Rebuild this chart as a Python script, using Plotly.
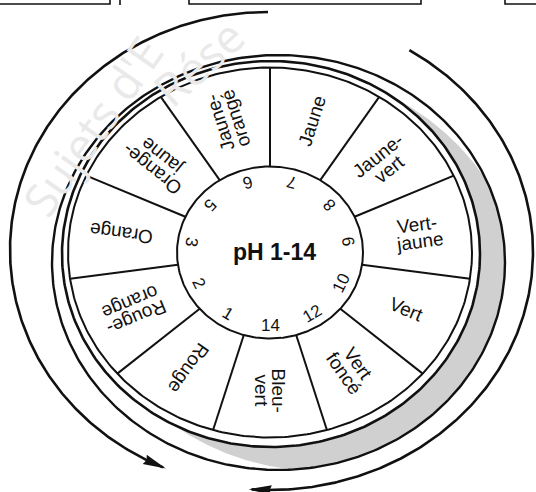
import numpy as np
import plotly.graph_objects as go

# ---------------- data ----------------
segment_names = [["Jaune"], ["Jaune-", "vert"], ["Vert-", "jaune"], ["Vert"],
                 ["Vert", "foncé"], ["Bleu-", "vert"], ["Rouge"], ["Rouge-", "orange"],
                 ["Orange"], ["Orange-", "jaune"], ["Jaune-", "orangé"]]
ph_values = ["7", "8", "9", "10", "12", "14", "1", "2", "3", "5", "6"]
title_text = "pH 1-14"
watermark_words = ["Sujets d'E", "Rése"]

# ---------------- geometry (pixel space) ----------------
W, H = 536, 492
CX, CY = 270.0, 252.5
IN_RX, IN_RY = 93.0, 86.0          # inner disc
R1 = (270.0, 252.5, 202.0, 185.0)  # segment outer edge
R2 = (271.0, 254.0, 209.0, 193.0)  # ring line
R3 = (278.5, 262.5, 226.5, 207.5)  # outer shadow ring
LEFT_ARC = (268.0, 250.0, 258.0, 238.0, 90.0, 246.0)
RIGHT_ARC = (270.0, 252.0, 263.0, 238.0, 58.0, -94.0)
BLACK = "#111111"
n_seg = len(segment_names)
step = 360.0 / n_seg


def ell(e, t0, t1, n=300):
    cx, cy, rx, ry = e
    t = np.radians(np.linspace(t0, t1, n))
    return cx + rx * np.cos(t), cy - ry * np.sin(t)


fig = go.Figure()


def add_line(x, y, width=2.0, color=BLACK):
    fig.add_trace(go.Scatter(x=list(x), y=list(y), mode="lines",
                             line=dict(color=color, width=width),
                             hoverinfo="skip", showlegend=False))


def add_fill(x, y, color):
    fig.add_trace(go.Scatter(x=list(x), y=list(y), mode="lines", fill="toself",
                             fillcolor=color, line=dict(width=0, color=color),
                             hoverinfo="skip", showlegend=False))


# gray crescent between R2 and R3 (right side)
ta, tb = 55.0, -118.0
th = np.linspace(ta, tb, 300)
u = (th - tb) / (ta - tb)
wgt = np.clip(np.sin(np.pi * u) / 0.55, 0, 1)
x2, y2 = ell(R2, ta, tb)
x3, y3 = ell(R3, ta, tb)
xo = x2 + wgt * (x3 - x2)
yo = y2 + wgt * (y3 - y2)
add_fill(np.concatenate([xo, x2[::-1]]), np.concatenate([yo, y2[::-1]]), "#d0d0d0")

# rings
for e, w in [(R3, 2.4), (R2, 2.6), (R1, 2.0)]:
    x, y = ell(e, 0, 360, 400)
    add_line(x, y, w)
x, y = ell((CX, CY, IN_RX, IN_RY), 0, 360, 300)
add_line(x, y, 2.0)

# dividers
for k in range(n_seg):
    a = np.radians(90 - k * step)
    add_line([CX + IN_RX * np.cos(a), CX + R1[2] * np.cos(a)],
             [CY - IN_RY * np.sin(a), CY - R1[3] * np.sin(a)], 2.0)

# outer arrow arcs
for arc in [LEFT_ARC, RIGHT_ARC]:
    cx, cy, rx, ry, t0, t1 = arc
    x, y = ell((cx, cy, rx, ry), t0, t1, 300)
    add_line(x, y, 2.6)
    tipx, tipy = x[-1], y[-1]
    dx, dy = x[-1] - x[-6], y[-1] - y[-6]
    L = np.hypot(dx, dy)
    dx, dy = dx / L, dy / L
    bx, by = tipx - 20 * dx, tipy - 20 * dy
    px, py = -dy, dx
    add_fill([tipx + 3 * dx, bx + 5 * px, bx + 2 * dx, bx - 5 * px, tipx + 3 * dx],
             [tipy + 3 * dy, by + 5 * py, by + 2 * dy, by - 5 * py, tipy + 3 * dy], BLACK)

# top boxes
add_line([0, 110, 110], [4, 4, 0], 1.6)
add_line([120, 120], [0, 5], 1.6)
add_line([189, 189, 421, 421], [0, 4, 4, 0], 1.6)
add_line([505, 505, 536], [0, 4, 4], 1.6)

annotations = []
FONT = "Liberation Sans, Arial, sans-serif"

# watermark
annotations.append(dict(x=92, y=126, text=watermark_words[0], showarrow=False,
                        textangle=-55, font=dict(family="Open Sans", size=46, color="#e9e9e9")))
annotations.append(dict(x=198, y=62, text=watermark_words[1], showarrow=False,
                        textangle=-42, font=dict(family="Open Sans", size=46, color="#e9e9e9")))

# segment labels
S = 0.917
RL = 150.0
LH = 17.0
for k, lines in enumerate(segment_names):
    t = np.radians(90 - k * step - step / 2)
    bx, by = CX + RL * np.cos(t), CY - RL * S * np.sin(t)
    ang = np.degrees(np.arctan2(-S * np.sin(t), np.cos(t)))
    ux, uy = np.cos(np.radians(ang)), np.sin(np.radians(ang))
    dx, dy = -uy, ux
    n = len(lines)
    for i, txt in enumerate(lines):
        off = (i - (n - 1) / 2) * LH
        annotations.append(dict(x=bx + off * dx, y=by + off * dy, text=txt,
                                showarrow=False, textangle=ang,
                                font=dict(family=FONT, size=19, color=BLACK)))

# pH numbers on inner disc
RN = 79.0
for k, txt in enumerate(ph_values):
    t = np.radians(90 - k * step - step / 2)
    nx, ny = CX + RN * np.cos(t), CY - RN * 0.925 * np.sin(t)
    ang = np.degrees(np.arctan2(-0.925 * np.cos(t), -np.sin(t)))
    annotations.append(dict(x=nx, y=ny, text=txt, showarrow=False, textangle=ang,
                            font=dict(family=FONT, size=17, color=BLACK)))

annotations.append(dict(x=274, y=252, text="<b>" + title_text + "</b>", showarrow=False,
                        font=dict(family=FONT, size=23, color=BLACK)))

fig.update_layout(
    width=W, height=H, margin=dict(l=0, r=0, t=0, b=0),
    paper_bgcolor="white", plot_bgcolor="white", showlegend=False,
    xaxis=dict(range=[0, W], visible=False, fixedrange=True),
    yaxis=dict(range=[H, 0], visible=False, fixedrange=True),
    annotations=annotations,
)
fig.write_html("out.html", config={"displayModeBar": False},
               post_script="document.body.style.margin='0px';document.body.style.overflow='hidden';")
